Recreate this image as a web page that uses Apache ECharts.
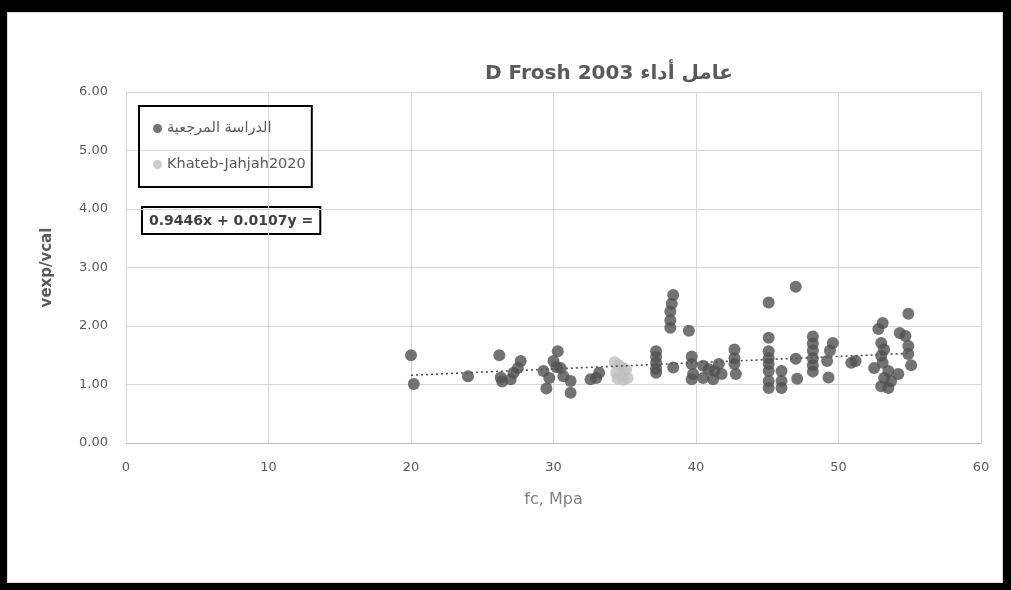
<!DOCTYPE html>
<html>
<head>
<meta charset="utf-8">
<script src="https://cdn.jsdelivr.net/npm/echarts@6/dist/echarts.min.js"></script>
<style>
  html, body { margin: 0; padding: 0; background: #000; }
  body { width: 1011px; height: 590px; position: relative; overflow: hidden; }
  #chart { position: absolute; left: 7px; top: 12px; width: 996px; height: 571px;
           background: #fff; box-sizing: border-box; border: 1px solid #d9d9d9; }
</style>
</head>
<body>
<div id="chart"></div>
<script>
// Reference study: [fc (MPa), vexp/vcal]
const refPoints = [
  [20.0,1.50],[20.2,1.01],[24.0,1.14],
  [26.2,1.50],[26.3,1.12],[26.4,1.05],[27.0,1.09],[27.2,1.20],[27.5,1.28],[27.7,1.40],
  [29.3,1.23],[29.5,0.93],[29.7,1.11],[30.0,1.40],[30.2,1.30],[30.3,1.57],[30.5,1.28],[30.7,1.14],[31.2,1.06],[31.2,0.86],
  [32.6,1.09],[33.0,1.11],[33.2,1.20],
  [37.2,1.57],[37.2,1.47],[37.2,1.37],[37.2,1.27],[37.2,1.20],
  [38.2,1.97],[38.2,2.10],[38.2,2.25],[38.3,2.38],[38.4,2.53],[38.4,1.29],
  [39.5,1.92],[39.7,1.48],[39.7,1.35],[39.8,1.18],[39.7,1.09],
  [40.5,1.32],[40.5,1.11],[40.9,1.26],[41.2,1.09],[41.3,1.23],[41.6,1.35],[41.8,1.18],
  [42.7,1.60],[42.7,1.45],[42.7,1.35],[42.8,1.18],
  [45.1,2.40],[45.1,1.80],[45.1,1.57],[45.1,1.45],[45.1,1.35],[45.1,1.23],[45.1,1.06],[45.1,0.94],
  [46.0,1.23],[46.0,1.06],[46.0,0.94],
  [47.0,2.67],[47.0,1.44],[47.1,1.10],
  [48.2,1.82],[48.2,1.70],[48.2,1.58],[48.2,1.45],[48.2,1.33],[48.2,1.22],
  [49.6,1.71],[49.4,1.58],[49.2,1.40],[49.3,1.12],
  [50.9,1.37],[51.2,1.40],
  [53.1,2.05],[52.8,1.95],[53.0,1.71],[53.2,1.60],[53.0,1.49],[52.5,1.28],[53.1,1.37],
  [53.5,1.23],[53.2,1.11],[53.0,0.97],[53.5,0.94],[53.7,1.06],[54.2,1.18],
  [54.9,2.21],[54.3,1.88],[54.7,1.83],[54.9,1.66],[54.9,1.52],[55.1,1.33]
];

// Khateb-Jahjah 2020 specimens
const khatebPoints = [
  [34.3,1.38],[34.6,1.33],[34.9,1.28],[35.1,1.25],[34.4,1.20],
  [34.8,1.16],[35.2,1.11],[34.5,1.10],[34.9,1.08]
];

// Linear trend of the reference study
const trendSlope = 0.0107;
const trendIntercept = 0.9446;
const trendRange = [20, 55];
const trendLine = trendRange.map(x => [x, trendSlope * x + trendIntercept]);

const seriesNames = ['الدراسة المرجعية', 'Khateb-Jahjah2020'];
const titleText = 'D Frosh 2003 عامل أداء';
const equationText = '0.9446x + 0.0107y =';
const xTicks = [0, 10, 20, 30, 40, 50, 60];
const yTicks = [0, 1, 2, 3, 4, 5, 6];

const font = 'DejaVu Sans, sans-serif';
const chart = echarts.init(document.getElementById('chart'), null, { renderer: 'canvas' });

chart.setOption({
  animation: false,
  backgroundColor: '#fff',
  title: {
    text: titleText,
    left: 472, top: 46,
    textStyle: { fontFamily: font, fontSize: 20, fontWeight: 'bold', color: '#595959' }
  },
  grid: { left: 118, top: 79, width: 855, height: 351, containLabel: false },
  legend: {
    orient: 'vertical',
    left: 131, top: 93,
    padding: [15, 6, 15, 14],
    itemGap: 21,
    borderColor: '#000', borderWidth: 2,
    icon: 'circle', itemWidth: 9, itemHeight: 9,
    textStyle: { fontFamily: font, fontSize: 14.5, color: '#595959' },
    data: seriesNames
  },
  xAxis: {
    type: 'value', min: xTicks[0], max: xTicks[xTicks.length - 1], interval: 10,
    name: 'fc, Mpa', nameLocation: 'middle', nameGap: 49,
    nameTextStyle: { fontFamily: font, fontSize: 16, color: '#7f7f7f' },
    axisLine: { show: true, lineStyle: { color: '#bfbfbf' } },
    axisTick: { show: false },
    axisLabel: { fontFamily: font, fontSize: 13, color: '#595959', margin: 18 },
    splitLine: { show: true, lineStyle: { color: '#d9d9d9', width: 1 } }
  },
  yAxis: {
    type: 'value', min: yTicks[0], max: yTicks[yTicks.length - 1], interval: 1,
    name: 'vexp/vcal', nameLocation: 'middle', nameGap: 71, nameRotate: 90,
    nameTextStyle: { fontFamily: font, fontSize: 15, fontWeight: 'bold', color: '#595959' },
    axisLine: { show: true, lineStyle: { color: '#d9d9d9' } },
    axisTick: { show: false },
    axisLabel: { fontFamily: font, fontSize: 13, color: '#595959', margin: 18,
                 formatter: v => v.toFixed(2) },
    splitLine: { show: true, lineStyle: { color: '#d9d9d9', width: 1 } }
  },
  graphic: [
    {
      type: 'text', left: 133, top: 193,
      style: {
        text: equationText,
        font: 'bold 14px ' + font,
        fill: '#404040',
        padding: [6, 6, 5, 6],
        borderColor: '#000', borderWidth: 2,
        backgroundColor: '#fff'
      }
    }
  ],
  series: [
    {
      name: seriesNames[0], type: 'scatter', data: refPoints,
      symbolSize: 12, itemStyle: { color: '#505050' }, z: 3
    },
    {
      name: seriesNames[1], type: 'scatter', data: khatebPoints,
      symbolSize: 12, itemStyle: { color: '#bfbfbf' }, z: 3
    },
    {
      name: 'trend', type: 'line', data: trendLine, showSymbol: false,
      lineStyle: { color: '#505050', width: 1.6, type: [2, 3] }, z: 4
    }
  ]
});
</script>
</body>
</html>
